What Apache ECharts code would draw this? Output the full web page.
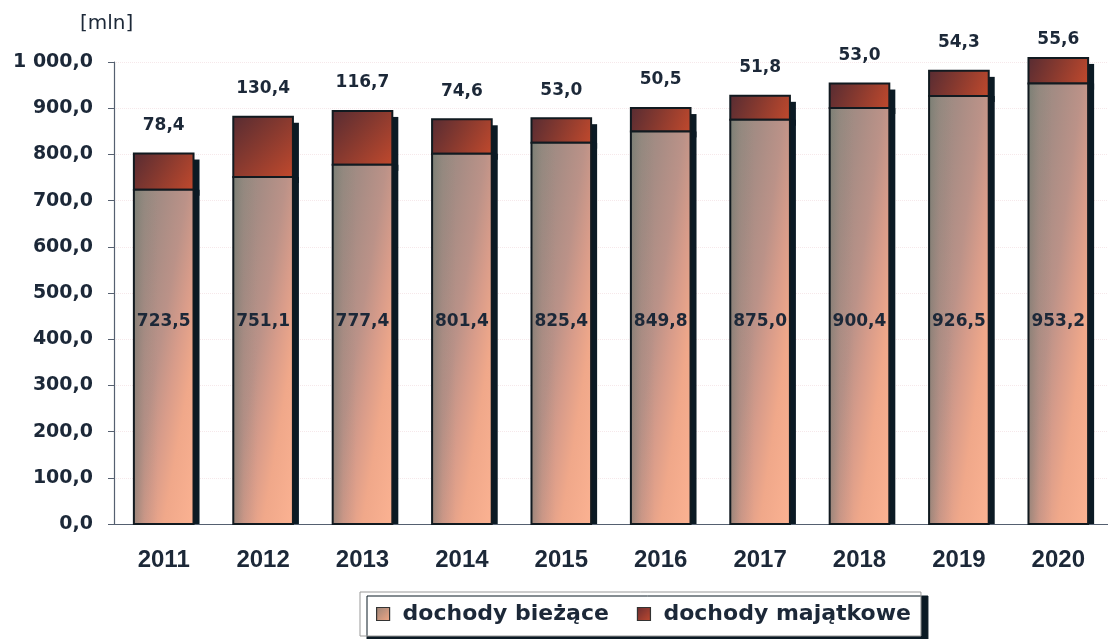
<!DOCTYPE html>
<html><head><meta charset="utf-8">
<script src="https://cdn.jsdelivr.net/npm/echarts@6/dist/echarts.min.js"></script>
<style>html,body{margin:0;padding:0;background:#fff}#c{width:1108px;height:639px}</style>
</head><body><div id="c"></div>
<script>
var categories = ['2011','2012','2013','2014','2015','2016','2017','2018','2019','2020'];
var biezace = [723.5, 751.1, 777.4, 801.4, 825.4, 849.8, 875.0, 900.4, 926.5, 953.2];
var majatkowe = [78.4, 130.4, 116.7, 74.6, 53.0, 50.5, 51.8, 53.0, 54.3, 55.6];
var seriesNames = ['dochody bieżące', 'dochody majątkowe'];
var yTicks = {min: 0, max: 1000, interval: 100};

function fmt(v){
  var s = v.toFixed(1).replace('.', ',');
  var parts = s.split(',');
  parts[0] = parts[0].replace(/\B(?=(\d{3})+(?!\d))/g, ' ');
  return parts.join(',');
}
var txt = '#1c2838';
var wideFont = 'DejaVu Sans, Verdana, sans-serif';
var armFont = 'Liberation Sans, Arial, sans-serif';
var shadowCol = '#0b1a24';
var borderCol = '#111a20';
var LG = echarts.graphic.LinearGradient;

// diagonal gradient in pixel space: isolines run from top-right to bottom-left
function diagGrad(g, stops){
  var w = g.w, h = g.h, L2 = w*w + h*h;
  var t = 2*w*h / L2;
  return new LG(g.x, g.y, g.x + h*t, g.y + w*t, stops, true);
}
var bottomStops = [
  {offset:0, color:'#8e8a80'},
  {offset:0.25, color:'#a68c84'},
  {offset:0.45, color:'#bb9288'},
  {offset:0.6, color:'#d89c8a'},
  {offset:0.75, color:'#f0a88a'},
  {offset:1, color:'#fbb292'}];
function leftShade(){ return new LG(0,0,1,0,[
  {offset:0, color:'rgba(95,110,100,0.40)'},
  {offset:0.18, color:'rgba(120,120,110,0.12)'},
  {offset:0.4, color:'rgba(120,120,110,0)'},
  {offset:1, color:'rgba(255,190,150,0)'}]); }
function gradTop(){ return new LG(0,0,1,1,[
  {offset:0, color:'#582c32'},
  {offset:0.45, color:'#86392f'},
  {offset:1, color:'#c0492d'}]); }

function barGeom(api, lo, hi){
  var i = api.value(0);
  var pLo = api.coord([i, lo]), pHi = api.coord([i, hi]);
  var bw = api.size([1, 0])[0] * 0.6;
  return {i: i, cx: pLo[0], x: pLo[0] - bw/2, y: pHi[1], w: bw, h: pLo[1] - pHi[1], bottom: pLo[1]};
}

var chart = echarts.init(document.getElementById('c'));
chart.setOption({
  backgroundColor: '#fff',
  animation: false,
  graphic: [{type:'text', left: 80, top: 14, style:{text:'[mln]', fontSize: 20, fill: txt, fontFamily: wideFont}}],
  grid: {left: 114, right: 0, top: 62, bottom: 115},
  legend: {
    left: 360, top: 592,
    data: [
      {name: seriesNames[0], icon: 'rect', itemStyle: {color: new LG(0,0,1,1,[{offset:0,color:'#9a8478'},{offset:1,color:'#f2a684'}]), borderColor:'#333', borderWidth:1.2}},
      {name: seriesNames[1], icon: 'rect', itemStyle: {color: new LG(0,0,1,1,[{offset:0,color:'#6a2c30'},{offset:1,color:'#c04a30'}]), borderColor:'#333', borderWidth:1.2}}
    ],
    itemWidth: 13, itemHeight: 13, itemGap: 28,
    padding: [11, 10, 11, 16],
    borderColor: '#999', borderWidth: 1,
    backgroundColor: '#fff',
    shadowColor: shadowCol, shadowOffsetX: 7, shadowOffsetY: 4, shadowBlur: 0,
    textStyle: {fontSize: 22, fontWeight: 'bold', color: txt, fontFamily: wideFont, padding: [0, 0, 0, 8]}
  },
  xAxis: {
    type: 'category', data: categories,
    axisLine: {lineStyle: {color: '#556070', width: 1.2}},
    axisTick: {length: 7, lineStyle: {color: '#556070'}},
    axisLabel: {fontSize: 24, fontWeight: 'bold', color: txt, margin: 24, fontFamily: armFont}
  },
  yAxis: {
    type: 'value', min: yTicks.min, max: yTicks.max, interval: yTicks.interval,
    axisLine: {show: true, lineStyle: {color: '#556070', width: 1.2}},
    axisTick: {show: true, length: 6, lineStyle: {color: '#556070'}},
    axisLabel: {fontSize: 19, fontWeight: 'bold', color: txt, margin: 21, fontFamily: wideFont, formatter: function(v){return fmt(v);}},
    splitLine: {show: true, lineStyle: {color: '#f6e8ea', type: 'dotted', width: 1}}
  },
  series: [
    {
      name: seriesNames[0], type: 'custom', z: 3,
      itemStyle: {color: '#d89c86'},
      encode: {x: 0, y: 1},
      data: categories.map(function(c, i){ return [i, biezace[i]]; }),
      renderItem: function(params, api){
        var v = api.value(1);
        var g = barGeom(api, 0, v);
        var labelY = api.coord([g.i, 438])[1];
        return {type: 'group', children: [
          {type:'rect', shape:{x: g.x + g.w, y: g.y, width: 6, height: g.h}, style:{fill: shadowCol}},
          {type:'rect', shape:{x: g.x, y: g.y, width: g.w, height: g.h}, style:{fill: diagGrad(g, bottomStops)}},
          {type:'rect', shape:{x: g.x, y: g.y, width: g.w, height: g.h}, style:{fill: leftShade()}},
          {type:'rect', shape:{x: g.x, y: g.y, width: g.w, height: g.h}, style:{fill: 'none', stroke: borderCol, lineWidth: 2}},
          {type:'text', x: g.cx, y: labelY, style:{text: fmt(v), fill: txt, font: 'bold 17px ' + wideFont, align: 'center', verticalAlign: 'middle'}}
        ]};
      }
    },
    {
      name: seriesNames[1], type: 'custom', z: 2,
      itemStyle: {color: '#8a3830'},
      encode: {x: 0, y: 1},
      data: categories.map(function(c, i){ return [i, majatkowe[i], biezace[i]]; }),
      renderItem: function(params, api){
        var v = api.value(1), base = api.value(2);
        var g = barGeom(api, base, base + v);
        var ly = Math.max(g.y - 28, 40);
        return {type: 'group', children: [
          {type:'rect', shape:{x: g.x + g.w, y: g.y + 6, width: 6, height: g.h}, style:{fill: shadowCol}},
          {type:'rect', shape:{x: g.x, y: g.y, width: g.w, height: g.h}, style:{fill: gradTop()}},
          {type:'rect', shape:{x: g.x, y: g.y, width: g.w, height: g.h}, style:{fill: 'none', stroke: borderCol, lineWidth: 2}},
          {type:'text', x: g.cx, y: ly, style:{text: fmt(v), fill: txt, font: 'bold 17px ' + wideFont, align: 'center', verticalAlign: 'middle'}}
        ]};
      }
    }
  ]
});
</script></body></html>
